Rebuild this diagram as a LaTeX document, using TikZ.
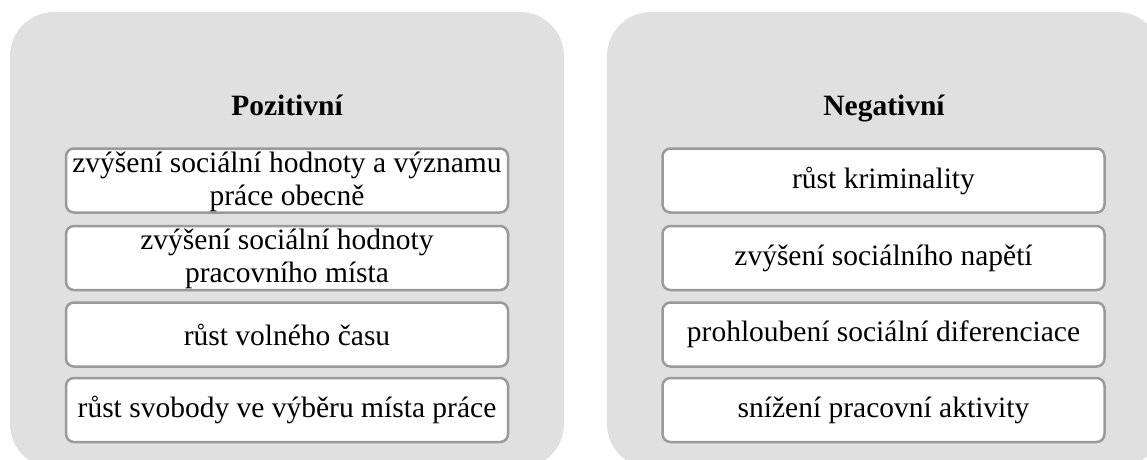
\documentclass[tikz,border=0pt]{standalone}
\usepackage{fontspec}
\setmainfont{Liberation Serif}
\definecolor{panelgray}{HTML}{E0E0E0}
\definecolor{boxline}{HTML}{9A9A9A}
\begin{document}
\begin{tikzpicture}[x=1pt,y=-1pt,
  panel/.style={fill=panelgray, rounded corners=44pt},
  heading/.style={font=\fontsize{29.5}{34}\selectfont\bfseries, anchor=base},
  item/.style={draw=boxline, line width=2.5pt, fill=white, rounded corners=8pt,
    minimum width=442pt, minimum height=64pt, align=center, inner sep=0pt,
    font=\fontsize{29.5}{33}\selectfont}]
\useasboundingbox (0,0) rectangle (1147,459);
\clip (0,0) rectangle (1147,459);
% two grey panels
\fill[panel] (10,12) rectangle (564,468);
\fill[panel] (607,12) rectangle (1161,468);
% headings
\node[heading] (hpos) at (287,115) {Pozitivní};
\node[heading] (hneg) at (884,115) {Negativní};
% positive effects
\node[item] (p1) at (287,180.5) {\strut zvýšení sociální hodnoty a významu\\práce obecně};
\node[item] (p2) at (287,258) {\strut zvýšení sociální hodnoty\\pracovního místa};
\node[item] (p3) at (287,334.5) {růst volného času};
\node[item] (p4) at (287,410) {růst svobody ve výběru místa práce};
% negative effects
\node[item] (n1) at (883.5,180.5) {růst kriminality};
\node[item] (n2) at (883.5,258) {zvýšení sociálního napětí};
\node[item] (n3) at (883.5,334.5) {prohloubení sociální diferenciace};
\node[item] (n4) at (883.5,410) {snížení pracovní aktivity};
\end{tikzpicture}
\end{document}
